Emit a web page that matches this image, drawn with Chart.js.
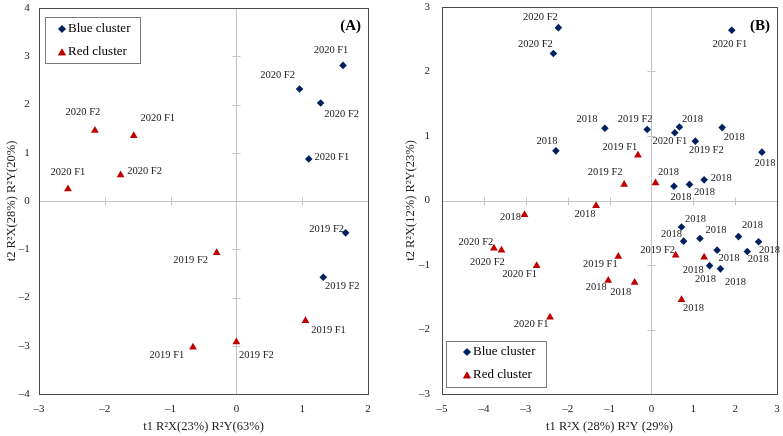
<!DOCTYPE html>
<html><head><meta charset="utf-8">
<script src="https://cdn.jsdelivr.net/npm/chart.js@4"></script>
<style>
html,body{margin:0;padding:0;background:#fff;}
#wrap{position:relative;width:783px;height:436px;overflow:hidden;}
#ca{position:absolute;left:0;top:0;}
#cb{position:absolute;left:390px;top:0;}
</style></head><body>
<div id="wrap"><canvas id="ca" width="390" height="436"></canvas><canvas id="cb" width="393" height="436"></canvas></div>
<script>
// ---------- Panel A data ----------
const aBlueX = [1.62, 0.96, 1.28, 1.10, 1.66, 1.32];
const aBlueY = [2.81, 2.32, 2.03, 0.87, -0.66, -1.58];
const aBlueLabels = ['2020 F1','2020 F2','2020 F2','2020 F1','2019 F2','2019 F2'];
const aRedX = [-2.15, -1.56, -2.56, -1.76, -0.30, 1.05, -0.66, 0.00];
const aRedY = [1.46, 1.35, 0.25, 0.54, -1.07, -2.48, -3.03, -2.92];
const aRedLabels = ['2020 F2','2020 F1','2020 F1','2020 F2','2019 F2','2019 F1','2019 F1','2019 F2'];
const aXTicks = [-3, -2, -1, 0, 1, 2];
const aYTicks = [-4, -3, -2, -1, 0, 1, 2, 3, 4];

// ---------- Panel B data ----------
const bBlueX = [-2.22, -2.34, 1.92, -1.11, -0.10, -2.28, 0.56, 0.67, 1.69, 1.05, 2.64, 0.54, 0.91, 1.26, 0.72, 0.77, 1.16, 2.08, 2.56, 1.57, 2.29, 1.39, 1.65];
const bBlueY = [2.68, 2.28, 2.64, 1.12, 1.10, 0.77, 1.05, 1.14, 1.13, 0.92, 0.75, 0.22, 0.25, 0.32, -0.41, -0.63, -0.59, -0.56, -0.64, -0.77, -0.79, -1.01, -1.06];
const bBlueLabels = ['2020 F2','2020 F2','2020 F1','2018','2019 F2','2018','2020 F1','2018','2018','2019 F2','2018','2018','2018','2018','2018','2018','2018','2018','2018','2018','2018','2018','2018'];
const bRedX = [-0.32, -0.65, 0.10, -1.32, -3.03, -3.76, -3.58, -2.74, -0.79, -1.03, -0.40, -2.42, 0.58, 1.26, 0.72];
const bRedY = [0.70, 0.25, 0.27, -0.08, -0.22, -0.74, -0.77, -1.01, -0.87, -1.24, -1.27, -1.81, -0.85, -0.88, -1.54];
const bRedLabels = ['2019 F1','2019 F2','2018','2018','2018','2020 F2','2020 F2','2020 F1','2019 F1','2018','2018','2020 F1','2019 F2','2018','2018'];
const bXTicks = [-5, -4, -3, -2, -1, 0, 1, 2, 3];
const bYTicks = [-3, -2, -1, 0, 1, 2, 3];

// ---------- label placement (pixel offsets of label centre from its point) ----------
const aBlueLabelOffsets = [[-12,-15],[-22,-14],[21,11],[23,-2],[-19,-4],[19,9]];
const aRedLabelOffsets = [[-12,-18],[24,-18],[0,-17],[24,-4],[-26,8],[23,10],[-26,8],[20,13]];
const bBlueLabelOffsets = [[-18,-10],[-18,-9],[-2,14],[-18,-9],[-12,-10],[-9,-10],[-5,8],[13,-8],[12,10],[11,9],[3,11],[7,11],[15,8],[17,-2],[14,-8],[-12,-7],[16,-8],[14,-11],[11,8],[12,8],[11,8],[-4,14],[15,13]];
const bRedLabelOffsets = [[-18,-8],[-19,-12],[13,-11],[-11,9],[-14,3],[-18,-6],[-14,12],[-17,9],[-18,8],[-12,7],[-14,10],[-19,7],[-18,-5],[-11,13],[12,8]];

const BLUE = '#002060';
const RED = '#C00000';
const SERIF = '"Liberation Serif", "DejaVu Serif", serif';

function pts(xs, ys) { return xs.map((x, i) => ({x: x, y: ys[i]})); }
function fmt(v) { return String(v).replace('-', '\u2013'); }

function makePanel(canvasId, o) {
  const panelPlugin = {
    id: 'panel' + canvasId,
    beforeDatasetsDraw(chart) {
      const ctx = chart.ctx, ca = chart.chartArea;
      const xs = chart.scales.x, ys = chart.scales.y;
      const x0 = Math.round(xs.getPixelForValue(0)) + 0.5;
      const y0 = Math.round(ys.getPixelForValue(0)) + 0.5;
      ctx.save();
      ctx.strokeStyle = '#c4c4c4';
      ctx.lineWidth = 1;
      ctx.beginPath();
      ctx.moveTo(x0, ca.top); ctx.lineTo(x0, ca.bottom);
      ctx.moveTo(ca.left, y0); ctx.lineTo(ca.right, y0);
      o.xTicks.forEach(v => {
        if (v === 0 || v === o.xTicks[0] || v === o.xTicks[o.xTicks.length-1]) return;
        const px = Math.round(xs.getPixelForValue(v)) + 0.5;
        ctx.moveTo(px, y0 - 4); ctx.lineTo(px, y0 + 4);
      });
      o.yTicks.forEach(v => {
        if (v === 0 || v === o.yTicks[0] || v === o.yTicks[o.yTicks.length-1]) return;
        const py = Math.round(ys.getPixelForValue(v)) + 0.5;
        ctx.moveTo(x0 - 4, py); ctx.lineTo(x0 + 4, py);
      });
      ctx.stroke();
      ctx.restore();
    },
    afterDatasetsDraw(chart) {
      const ctx = chart.ctx, ca = chart.chartArea;
      ctx.save();
      ctx.font = '10.5px ' + SERIF;
      ctx.fillStyle = '#1a1a1a';
      ctx.textAlign = 'center';
      ctx.textBaseline = 'middle';
      chart.data.datasets.forEach((ds, di) => {
        const meta = chart.getDatasetMeta(di);
        meta.data.forEach((el, i) => {
          const off = ds.labelOffsets[i];
          ctx.fillText(ds.pointLabels[i], el.x + off[0], el.y + off[1]);
        });
      });
      ctx.strokeStyle = '#4a4a4a';
      ctx.lineWidth = 1;
      ctx.strokeRect(Math.round(ca.left) + 0.5, Math.round(ca.top) + 0.5, Math.round(ca.right - ca.left), Math.round(ca.bottom - ca.top));
      ctx.font = 'bold 15px ' + SERIF;
      ctx.fillStyle = '#000';
      ctx.textAlign = 'right';
      ctx.fillText(o.letter, ca.right - o.letterDX, ca.top + o.letterDY);
      const L = o.legend;
      ctx.strokeStyle = '#7a7a7a';
      ctx.strokeRect(Math.round(ca.left + L.dx) + 0.5, Math.round(ca.top + L.dy) + 0.5, L.w, L.h);
      ctx.font = '13px ' + SERIF;
      ctx.textAlign = 'left';
      const items = [['Blue cluster', BLUE, 'rectRot', 3.8], ['Red cluster', RED, 'triangle', 4.5]];
      items.forEach((it, k) => {
        const cy = ca.top + L.dy + L.row0 + k * L.rowGap;
        const mx = ca.left + L.dx + L.mx;
        ctx.fillStyle = it[1];
        ctx.beginPath();
        Chart.helpers.drawPoint(ctx, {pointStyle: it[2], radius: it[3], rotation: 0, borderWidth: 0}, mx, cy + (k === 1 ? 1 : 0));
        ctx.fill();
        ctx.fillStyle = '#000';
        ctx.fillText(it[0], mx + 6, cy);
      });
      ctx.restore();
    }
  };

  const xTickFont = {family: SERIF, size: 11, lineHeight: 2.2};
  const yTickFont = {family: SERIF, size: 11, lineHeight: 1};
  const titleFont = {family: SERIF, size: 12.5};
  return new Chart(document.getElementById(canvasId), {
    type: 'scatter',
    data: {
      datasets: [
        {label: 'Blue cluster', data: pts(o.blueX, o.blueY), pointLabels: o.blueLabels, labelOffsets: o.blueOff,
         pointStyle: 'rectRot', pointRadius: 3.8, backgroundColor: BLUE, borderColor: BLUE, borderWidth: 0},
        {label: 'Red cluster', data: pts(o.redX, o.redY), pointLabels: o.redLabels, labelOffsets: o.redOff,
         pointStyle: 'triangle', pointRadius: 4.5, backgroundColor: RED, borderColor: RED, borderWidth: 0}
      ]
    },
    options: {
      responsive: false,
      animation: false,
      devicePixelRatio: 1,
      layout: {padding: o.padding},
      plugins: {legend: {display: false}, tooltip: {enabled: false}},
      scales: {
        x: {
          type: 'linear', min: o.xTicks[0], max: o.xTicks[o.xTicks.length-1],
          afterBuildTicks: s => { s.ticks = o.xTicks.map(v => ({value: v})); },
          afterFit: s => { s.height = 42; },
          grid: {display: false, drawTicks: false},
          border: {display: false},
          ticks: {font: xTickFont, color: '#222', padding: 3, maxRotation: 0, autoSkip: false, callback: v => fmt(v)},
          title: {display: true, text: o.xTitle, font: titleFont, color: '#222', padding: {top: 0, bottom: 2}}
        },
        y: {
          type: 'linear', min: o.yTicks[0], max: o.yTicks[o.yTicks.length-1],
          afterBuildTicks: s => { s.ticks = o.yTicks.map(v => ({value: v})); },
          afterFit: s => { s.width = o.yWidth; },
          grid: {display: false, drawTicks: false},
          border: {display: false},
          ticks: {font: yTickFont, color: '#222', padding: 1, autoSkip: false, callback: v => fmt(v) + o.yGap},
          title: {display: true, text: o.yTitle, font: titleFont, color: '#222', padding: {top: o.yTitlePad, bottom: 0}}
        }
      }
    },
    plugins: [panelPlugin]
  });
}

makePanel('ca', {
  blueX: aBlueX, blueY: aBlueY, blueLabels: aBlueLabels, blueOff: aBlueLabelOffsets,
  redX: aRedX, redY: aRedY, redLabels: aRedLabels, redOff: aRedLabelOffsets,
  xTicks: aXTicks, yTicks: aYTicks,
  xTitle: 't1 R\u00B2X(23%) R\u00B2Y(63%)', yTitle: 't2 R\u00B2X(28%) R\u00B2Y(20%)',
  padding: {left: 0, right: 22, top: 8, bottom: 0}, yWidth: 39, yTitlePad: 4, yGap: '\u2002\u0020',
  letter: '(A)', letterDX: 7, letterDY: 18,
  legend: {dx: 6, dy: 9, w: 95, h: 46, mx: 17, row0: 12, rowGap: 23}
});

makePanel('cb', {
  blueX: bBlueX, blueY: bBlueY, blueLabels: bBlueLabels, blueOff: bBlueLabelOffsets,
  redX: bRedX, redY: bRedY, redLabels: bRedLabels, redOff: bRedLabelOffsets,
  xTicks: bXTicks, yTicks: bYTicks,
  xTitle: 't1 R\u00B2X (28%) R\u00B2Y (29%)', yTitle: 't2 R\u00B2X(12%) R\u00B2Y(23%)',
  padding: {left: 0, right: 6, top: 7, bottom: 0}, yWidth: 52, yTitlePad: 13, yGap: '\u2002\u2002',
  letter: '(B)', letterDX: 7, letterDY: 19,
  legend: {dx: 4, dy: 334, w: 100, h: 46, mx: 21, row0: 11, rowGap: 23}
});
</script>
</body></html>
